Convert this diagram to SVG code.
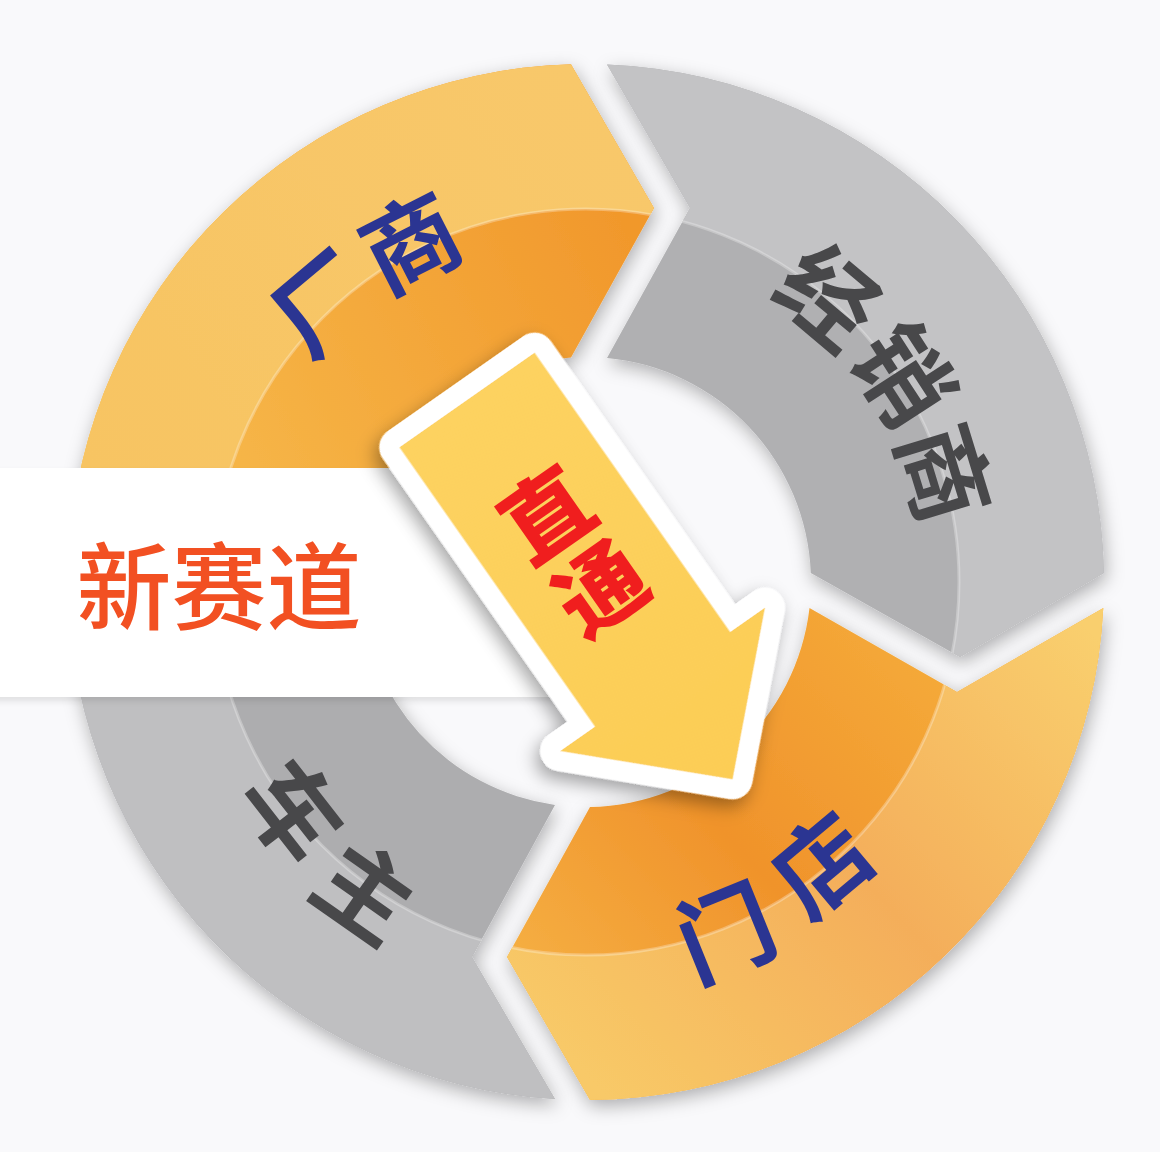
<svg xmlns="http://www.w3.org/2000/svg" width="1160" height="1152" viewBox="0 0 1160 1152">
<defs>
<style>
.lbl{font-family:"Noto Sans CJK SC","Noto Sans",sans-serif;font-weight:700;font-size:96px;text-anchor:middle}
.blue{fill:#2b3592}
.gray{fill:#48484a}
.title{font-family:"Noto Sans CJK SC","Noto Sans",sans-serif;font-weight:500;font-size:95px;fill:#f25022;text-anchor:middle}
.red{font-family:"Noto Sans CJK SC","Noto Sans",sans-serif;font-weight:900;font-size:88px;fill:#f01e1e;text-anchor:middle}
.band{fill:none;stroke-width:150}
.hl{fill:none;stroke:#fff;stroke-opacity:0.28;stroke-width:3}
</style>
<filter id="sh" x="-20%" y="-20%" width="140%" height="140%">
<feDropShadow dx="2" dy="6" stdDeviation="9" flood-color="#000" flood-opacity="0.3"/>
</filter>
<filter id="shB" x="-10%" y="-20%" width="120%" height="140%">
<feDropShadow dx="0" dy="4" stdDeviation="3" flood-color="#000" flood-opacity="0.10"/>
</filter>
<filter id="shA" x="-30%" y="-30%" width="160%" height="160%">
<feDropShadow dx="4" dy="8" stdDeviation="9" flood-color="#000" flood-opacity="0.35"/>
</filter>
<path id="p1" d="M68.6,557 A518,518 0 0 1 571,64.2 L654,208 L571,357.5 A225,225 0 0 0 362.4,557 L211,474 Z"/>
<path id="p2" d="M607,64.4 A518,518 0 0 1 1103.9,573 L960,657 L810.8,573 A225,225 0 0 0 607,358 L690,208 Z"/>
<path id="p3" d="M1103.3,608 A518,518 0 0 1 590,1100 L507,957 L590,807 A225,225 0 0 0 809.5,608 L957,692 Z"/>
<path id="p4" d="M555,1099.1 A518,518 0 0 1 68.1,592 L211,509 L361.2,592 A225,225 0 0 0 555,804.9 L472,957 Z"/>
<clipPath id="c1"><use href="#p1"/></clipPath>
<clipPath id="c2"><use href="#p2"/></clipPath>
<clipPath id="c3"><use href="#p3"/></clipPath>
<clipPath id="c4"><use href="#p4"/></clipPath>
<linearGradient id="g1i" gradientUnits="userSpaceOnUse" x1="240" y1="460" x2="640" y2="260">
<stop offset="0" stop-color="#f6b547"/><stop offset="1" stop-color="#f1982c"/>
</linearGradient>
<linearGradient id="g1o" gradientUnits="userSpaceOnUse" x1="80" y1="460" x2="600" y2="80">
<stop offset="0" stop-color="#f7c462"/><stop offset="1" stop-color="#f8c86b"/>
</linearGradient>
<linearGradient id="g3i" gradientUnits="userSpaceOnUse" x1="900" y1="600" x2="520" y2="960">
<stop offset="0" stop-color="#f5ab3a"/><stop offset="0.55" stop-color="#f0932b"/><stop offset="1" stop-color="#f5ae42"/>
</linearGradient>
<linearGradient id="g3o" gradientUnits="userSpaceOnUse" x1="1090" y1="630" x2="600" y2="1090">
<stop offset="0" stop-color="#f9cf6e"/><stop offset="0.5" stop-color="#f4ae5a"/><stop offset="1" stop-color="#f8c967"/>
</linearGradient>
<linearGradient id="gy" gradientUnits="userSpaceOnUse" x1="0" y1="0" x2="463" y2="0">
<stop offset="0" stop-color="#fdd260"/><stop offset="1" stop-color="#fccd55"/>
</linearGradient>
</defs>

<rect x="0" y="0" width="1160" height="1152" fill="#f9f9fb"/>

<g id="node-changshang">
<g filter="url(#sh)">
<use href="#p1" fill="url(#g1i)"/>
<circle cx="586" cy="582" r="448" class="band" stroke="url(#g1o)" clip-path="url(#c1)"/>
<circle cx="586" cy="582" r="373" class="hl" clip-path="url(#c1)"/>
</g>
<text class="lbl blue" transform="translate(323,304) rotate(-40)" y="35.5">厂</text>
<text class="lbl blue" transform="translate(411,243) rotate(-27)" y="35.5">商</text>
</g>

<g id="node-jingxiaoshang">
<g filter="url(#sh)">
<use href="#p2" fill="#b0b0b2"/>
<circle cx="586" cy="582" r="448" class="band" stroke="#c3c3c5" clip-path="url(#c2)"/>
<circle cx="586" cy="582" r="373" class="hl" clip-path="url(#c2)"/>
</g>
<text class="lbl gray" transform="translate(828,297) rotate(40)" y="35.5">经</text>
<text class="lbl gray" transform="translate(903,375) rotate(57)" y="35.5">销</text>
<text class="lbl gray" transform="translate(944,473) rotate(73)" y="35.5">商</text>
</g>

<g id="node-mendian">
<g filter="url(#sh)">
<use href="#p3" fill="url(#g3i)"/>
<circle cx="586" cy="582" r="448" class="band" stroke="url(#g3o)" clip-path="url(#c3)"/>
<circle cx="586" cy="582" r="373" class="hl" clip-path="url(#c3)"/>
</g>
<text class="lbl blue" transform="translate(726,933) rotate(-22)" y="35.5">门</text>
<text class="lbl blue" transform="translate(822,865) rotate(-40)" y="35.5">店</text>
</g>

<g id="node-chezhu">
<g filter="url(#sh)">
<use href="#p4" fill="#adadaf"/>
<circle cx="586" cy="582" r="448" class="band" stroke="#bfbfc1" clip-path="url(#c4)"/>
<circle cx="586" cy="582" r="373" class="hl" clip-path="url(#c4)"/>
</g>
<text class="lbl gray" transform="translate(293,811) rotate(52)" y="35.5">车</text>
<text class="lbl gray" transform="translate(365,892) rotate(35)" y="35.5">主</text>
</g>

<g id="node-xinsaidao">
<rect x="-20" y="468" width="582" height="229" fill="#ffffff" filter="url(#shB)"/>
<text class="title" x="219" y="623">新赛道</text>
</g>

<g id="connectors">
<g id="arrow-zhitong">
<g transform="translate(467,400) rotate(55)" filter="url(#shA)">
<path d="M0,-82.5 L341,-82.5 L341,-125 L463,0 L341,125 L341,82.5 L0,82.5 Z" fill="#ffffff" stroke="#ffffff" stroke-width="40" stroke-linejoin="round"/>
<path d="M0,-82.5 L341,-82.5 L341,-125 L463,0 L341,125 L341,82.5 L0,82.5 Z" fill="url(#gy)"/>
</g>
<text class="red" transform="translate(547,515) rotate(-35)" y="32.5">直</text>
<text class="red" transform="translate(601,589) rotate(-35)" y="32.5">通</text>
</g>
</g>
</svg>
